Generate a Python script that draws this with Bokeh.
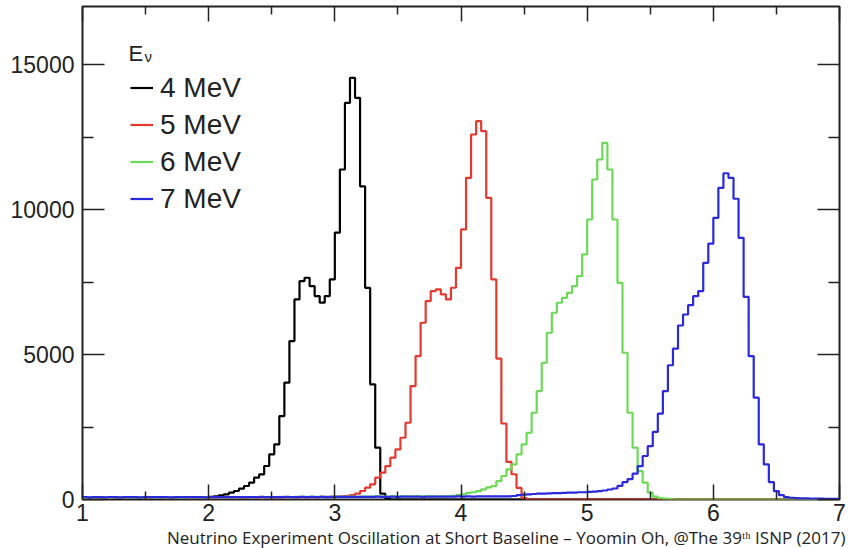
from bokeh.plotting import figure
from bokeh.models import (Range1d, FixedTicker, LinearAxis, Legend, LegendItem, Label,
                          Title, CustomLabelingPolicy)
from bokeh.embed import file_html
from bokeh.resources import INLINE

# Histogram binning: 150 bins of 0.04 from 1 to 7
x_start = 1.0
bin_width = 0.04
n_bins = 150

# Counts per bin for each neutrino energy (15 bins per row)
counts_4mev = [
    10, 10, 10, 20, 10, 20, 20, 20, 20, 30, 30, 30, 30, 40, 40,
    40, 40, 50, 50, 50, 60, 60, 60, 70, 80, 90, 110, 143, 178, 235,
    293, 373, 465, 580, 753, 868, 1155, 1558, 1902, 2878, 4027, 5464, 6900, 7532, 7647,
    7360, 7015, 6786, 7015, 7590, 9200, 11380, 13680, 14540, 13850, 10800, 7300, 3970, 1786, 200,
    30, 0, 0, 0, 0, 0, 0, 0, 0, 0, 0, 0, 0, 0, 0,
    0, 0, 0, 0, 0, 0, 0, 0, 0, 0, 0, 0, 0, 0, 0,
    0, 0, 0, 0, 0, 0, 0, 0, 0, 0, 0, 0, 0, 0, 0,
    0, 0, 0, 0, 0, 0, 0, 0, 0, 0, 0, 0, 0, 0, 0,
    0, 0, 0, 0, 0, 0, 0, 0, 0, 0, 0, 0, 0, 0, 0,
    0, 0, 0, 0, 0, 0, 0, 0, 0, 0, 0, 0, 0, 0, 0,
]

counts_5mev = [
    50, 60, 50, 60, 60, 50, 60, 60, 50, 60, 60, 60, 50, 60, 60,
    60, 50, 60, 60, 60, 60, 50, 60, 60, 60, 60, 60, 70, 60, 60,
    70, 60, 60, 70, 60, 70, 70, 70, 60, 70, 70, 80, 70, 80, 80,
    80, 80, 90, 80, 90, 100, 110, 130, 150, 200, 293, 408, 522, 752, 924,
    1154, 1441, 1728, 2130, 2647, 3911, 4945, 6094, 6841, 7186, 7243, 7071, 6899, 7301, 7990,
    9312, 11093, 12586, 13046, 12700, 10400, 7590, 4860, 2620, 1300, 870, 400, 50, 0, 0,
    0, 0, 0, 0, 0, 0, 0, 0, 0, 0, 0, 0, 0, 0, 0,
    0, 0, 0, 0, 0, 0, 0, 0, 0, 0, 0, 0, 0, 0, 0,
    0, 0, 0, 0, 0, 0, 0, 0, 0, 0, 0, 0, 0, 0, 0,
    0, 0, 0, 0, 0, 0, 0, 0, 0, 0, 0, 0, 0, 0, 0,
]

counts_6mev = [
    60, 70, 60, 70, 70, 60, 70, 70, 70, 60, 70, 70, 70, 70, 60,
    70, 70, 70, 70, 60, 70, 70, 70, 70, 70, 70, 80, 70, 70, 80,
    70, 80, 80, 70, 80, 80, 80, 80, 80, 90, 80, 80, 90, 90, 90,
    90, 90, 90, 100, 90, 100, 90, 100, 100, 90, 100, 100, 100, 110, 100,
    100, 110, 100, 110, 110, 100, 110, 110, 110, 110, 100, 110, 110, 130, 150,
    175, 230, 250, 292, 350, 420, 464, 636, 810, 1039, 1211, 1556, 1900, 2302, 2992,
    3738, 4715, 5750, 6439, 6784, 6956, 7128, 7358, 7703, 8450, 9656, 11035, 11724, 12299, 11380,
    9656, 7473, 5060, 2992, 1786, 980, 580, 235, 100, 50, 30, 20, 0, 0, 0,
    0, 0, 0, 0, 0, 0, 0, 0, 0, 0, 0, 0, 0, 0, 0,
    0, 0, 0, 0, 0, 0, 0, 0, 0, 0, 0, 0, 0, 0, 0,
]

counts_7mev = [
    80, 70, 80, 80, 70, 80, 80, 70, 80, 80, 80, 70, 80, 80, 80,
    80, 80, 70, 80, 80, 80, 80, 80, 80, 70, 80, 80, 80, 80, 80,
    80, 80, 80, 80, 80, 90, 80, 80, 80, 80, 90, 80, 80, 90, 80,
    90, 80, 90, 80, 90, 90, 90, 90, 90, 90, 90, 90, 90, 100, 90,
    90, 100, 90, 100, 100, 100, 100, 90, 100, 100, 100, 100, 100, 100, 110,
    100, 110, 100, 110, 110, 110, 110, 110, 110, 110, 120, 150, 170, 180, 190,
    200, 200, 210, 220, 220, 230, 240, 240, 250, 250, 260, 270, 290, 310, 345,
    380, 470, 600, 700, 890, 1150, 1500, 1840, 2330, 2960, 3737, 4630, 5200, 6000, 6380,
    6700, 7010, 7186, 8162, 8820, 9713, 10747, 11250, 11092, 10370, 9024, 6990, 4946, 3510, 1900,
    1210, 600, 287, 150, 80, 60, 50, 40, 40, 30, 30, 30, 20, 20, 20,
]

series_labels = ["4 MeV", "5 MeV", "6 MeV", "7 MeV"]
series_colors = ["#000000", "#e5382f", "#6bdb57", "#2929dd"]
series_counts = [counts_4mev, counts_5mev, counts_6mev, counts_7mev]

x_ticks = [1, 2, 3, 4, 5, 6, 7]
x_minor = [1.5, 2.5, 3.5, 4.5, 5.5, 6.5]
x_tick_labels = ["1", "2", "3", "4", "5", "6", "7"]
y_ticks = [0, 5000, 10000, 15000]
y_minor = [2500, 7500, 12500]
y_tick_labels = ["0", "5000", "10000", "15000"]

caption = "Neutrino Experiment Oscillation at Short Baseline \u2013 Yoomin Oh, @The 39\u1d57\u02b0 ISNP (2017)"

AXIS_COLOR = "#222222"
TICK_FONT = "Liberation Sans"

p = figure(width=848, height=548, x_range=Range1d(1, 7), y_range=Range1d(0, 17000),
           output_backend="svg", toolbar_location=None,
           min_border_left=82, min_border_right=9, min_border_top=6, min_border_bottom=48)
p.xgrid.visible = False
p.ygrid.visible = False
p.background_fill_color = "white"
p.border_fill_color = "white"
p.outline_line_color = AXIS_COLOR
p.outline_line_width = 2

# Mirror axes carry ticks only
no_labels = CustomLabelingPolicy(code="return new Set()")


def style_axis(ax, ticks, minor, labels, major_len, minor_len, show_labels):
    ax.ticker = FixedTicker(ticks=ticks, minor_ticks=minor)
    ax.axis_line_color = None
    ax.major_tick_in = major_len
    ax.major_tick_out = 0
    ax.minor_tick_in = minor_len
    ax.minor_tick_out = 0
    ax.major_tick_line_color = AXIS_COLOR
    ax.minor_tick_line_color = AXIS_COLOR
    ax.major_tick_line_width = 1.5
    ax.minor_tick_line_width = 1.5
    if show_labels:
        ax.major_label_overrides = {t: s for t, s in zip(ticks, labels)}
        ax.major_label_text_font = TICK_FONT
        ax.major_label_text_font_size = "23px"
        ax.major_label_text_color = "#222222"
    else:
        ax.major_label_policy = no_labels
        ax.major_label_text_font_size = "1px"
        ax.major_label_standoff = 0


style_axis(p.xaxis[0], x_ticks, x_minor, x_tick_labels, 15, 8, True)
p.xaxis[0].major_label_standoff = 4
style_axis(p.yaxis[0], y_ticks, y_minor, y_tick_labels, 22, 11, True)
p.yaxis[0].major_label_standoff = 8

top_axis = LinearAxis()
style_axis(top_axis, x_ticks, x_minor, x_tick_labels, 15, 8, False)
p.add_layout(top_axis, "above")
right_axis = LinearAxis()
style_axis(right_axis, y_ticks, y_minor, y_tick_labels, 22, 11, False)
p.add_layout(right_axis, "right")

# Step outlines of the four spectra
edges = [round(x_start + i * bin_width, 4) for i in range(n_bins + 1)]
items = []
for label, color, counts in zip(series_labels, series_colors, series_counts):
    r = p.step(x=edges, y=counts + [counts[-1]], mode="after",
               line_color=color, line_width=2.2)
    items.append(LegendItem(label=label, renderers=[r]))

legend = Legend(items=items, location=(48, 282),
                label_text_font=TICK_FONT, label_text_font_size="28px",
                label_text_color="#222222",
                glyph_width=23, glyph_height=37, label_height=37,
                label_standoff=7, spacing=0, padding=0, margin=0,
                background_fill_alpha=0, border_line_alpha=0)
p.add_layout(legend)

# Legend heading: E with subscript nu
p.add_layout(Label(x=46, y=446, x_units="screen", y_units="screen", text="E",
                   text_font=TICK_FONT, text_font_size="22px", text_color="#222222",
                   text_baseline="alphabetic"))
p.add_layout(Label(x=62, y=443, x_units="screen", y_units="screen", text="\u03bd",
                   text_font=TICK_FONT, text_font_size="15px", text_color="#222222",
                   text_baseline="alphabetic"))

# Source line under the axis
source_line = Title(text=caption, align="right", offset=-6, standoff=0,
                    text_font="Open Sans", text_font_size="17px",
                    text_font_style="normal", text_color="#222222")
p.add_layout(source_line, "below")

open("out.html", "w").write(file_html(p, INLINE))
